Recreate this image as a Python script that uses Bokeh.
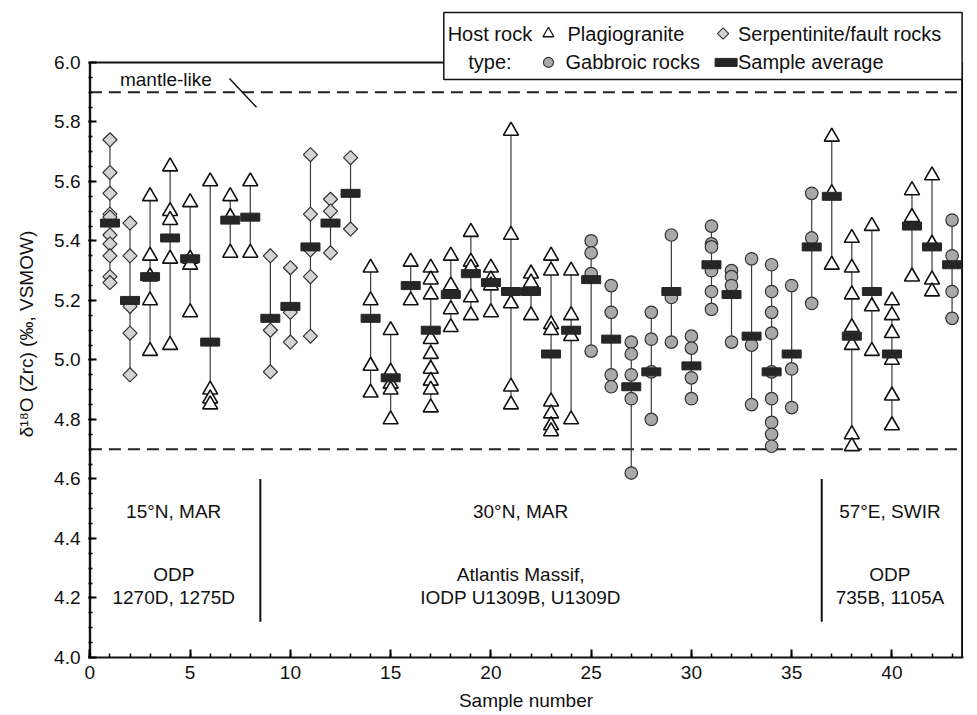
import numpy as np
import pandas as pd
from bokeh.plotting import figure
from bokeh.models import Range1d, FixedTicker, Title, PrintfTickFormatter
from bokeh.core.properties import value
from bokeh.embed import file_html
from bokeh.resources import INLINE

FONT = "Liberation Sans"

# ---------------- data ----------------
serp_sample = [1, 1, 1, 1, 1, 1, 1, 1, 1, 1,
               2, 2, 2, 2, 2,
               9, 9, 9,
               10, 10, 10,
               11, 11, 11, 11, 11,
               12, 12, 12,
               13, 13]
serp_d18o = [5.74, 5.63, 5.56, 5.49, 5.48, 5.42, 5.39, 5.35, 5.28, 5.26,
             5.46, 5.35, 5.18, 5.09, 4.95,
             5.35, 5.10, 4.96,
             5.31, 5.16, 5.06,
             5.69, 5.49, 5.37, 5.28, 5.08,
             5.54, 5.50, 5.36,
             5.68, 5.44]

plag_sample = [3, 3, 3, 3, 3,
               4, 4, 4, 4, 4,
               5, 5, 5, 5,
               6, 6, 6, 6,
               7, 7, 7,
               8, 8,
               14, 14, 14, 14,
               15, 15, 15, 15, 15,
               16, 16,
               17, 17, 17, 17, 17, 17, 17, 17, 17,
               18, 18, 18, 18,
               19, 19, 19, 19, 19,
               20, 20, 20, 20,
               21, 21, 21, 21, 21,
               22, 22, 22,
               23, 23, 23, 23, 23, 23, 23, 23,
               24, 24, 24, 24,
               37, 37, 37,
               38, 38, 38, 38, 38, 38, 38,
               39, 39, 39,
               40, 40, 40, 40, 40, 40,
               41, 41, 41,
               42, 42, 42, 42]
plag_d18o = [5.55, 5.35, 5.28, 5.20, 5.03,
             5.65, 5.50, 5.47, 5.34, 5.05,
             5.53, 5.34, 5.32, 5.16,
             5.60, 4.90, 4.87, 4.85,
             5.55, 5.48, 5.36,
             5.60, 5.36,
             5.31, 5.20, 4.98, 4.89,
             5.10, 4.96, 4.92, 4.90, 4.80,
             5.33, 5.20,
             5.31, 5.27, 5.22, 5.07, 5.02, 4.97, 4.93, 4.90, 4.84,
             5.35, 5.25, 5.17, 5.11,
             5.43, 5.33, 5.31, 5.21, 5.15,
             5.31, 5.27, 5.25, 5.16,
             5.77, 5.42, 5.19, 4.91, 4.85,
             5.29, 5.26, 5.15,
             5.35, 5.30, 5.12, 5.10, 4.86, 4.82, 4.78, 4.76,
             5.30, 5.15, 5.08, 4.80,
             5.75, 5.56, 5.32,
             5.41, 5.31, 5.22, 5.11, 5.05, 4.75, 4.71,
             5.45, 5.18, 5.03,
             5.20, 5.15, 5.09, 5.00, 4.88, 4.78,
             5.57, 5.48, 5.28,
             5.62, 5.39, 5.27, 5.23]

gab_sample = [25, 25, 25, 25,
              26, 26, 26, 26,
              27, 27, 27, 27, 27,
              28, 28, 28, 28,
              29, 29, 29,
              30, 30, 30, 30,
              31, 31, 31, 31, 31, 31,
              32, 32, 32, 32,
              33, 33, 33,
              34, 34, 34, 34, 34, 34, 34, 34, 34,
              35, 35, 35,
              36, 36, 36,
              43, 43, 43, 43]
gab_d18o = [5.40, 5.36, 5.29, 5.03,
            5.25, 5.16, 4.95, 4.91,
            5.06, 5.02, 4.95, 4.87, 4.62,
            5.16, 5.07, 4.96, 4.80,
            5.42, 5.21, 5.06,
            5.08, 5.04, 4.94, 4.87,
            5.45, 5.39, 5.38, 5.30, 5.23, 5.17,
            5.30, 5.28, 5.25, 5.06,
            5.34, 5.05, 4.85,
            5.32, 5.23, 5.16, 5.09, 4.96, 4.87, 4.79, 4.75, 4.71,
            5.25, 4.97, 4.84,
            5.56, 5.41, 5.19,
            5.47, 5.35, 5.23, 5.14]

avg_sample = list(range(1, 44))
avg_d18o = [5.46, 5.20, 5.28, 5.41, 5.34, 5.06, 5.47, 5.48, 5.14, 5.18,
            5.38, 5.46, 5.56, 5.14, 4.94, 5.25, 5.10, 5.22, 5.29, 5.26,
            5.23, 5.23, 5.02, 5.10, 5.27, 5.07, 4.91, 4.96, 5.23, 4.98,
            5.32, 5.22, 5.08, 4.96, 5.02, 5.38, 5.55, 5.08, 5.23, 5.02,
            5.45, 5.38, 5.32]

mantle_bounds = [5.9, 4.7]
x_ticks = [0, 5, 10, 15, 20, 25, 30, 35, 40]
y_ticks = [4.0, 4.2, 4.4, 4.6, 4.8, 5.0, 5.2, 5.4, 5.6, 5.8, 6.0]
region_dividers = [8.5, 36.5]

# ---------------- figure ----------------
XMAX = 43.5
YMAX = 6.0
Y_TOP = 6.1745
p = figure(width=967, height=713,
           x_range=Range1d(-0.07, XMAX + 0.07), y_range=Range1d(4.0, Y_TOP),
           output_backend="svg", toolbar_location=None,
           min_border_left=88, min_border_right=4, min_border_top=10, min_border_bottom=55)
p.outline_line_color = None
p.grid.visible = False

# axes
xa = p.xaxis[0]
xa.ticker = FixedTicker(ticks=x_ticks, minor_ticks=list(range(0, 44)))
xa.axis_line_width = 2
xa.axis_line_color = "#111"
xa.major_tick_in = 8
xa.major_tick_out = 0
xa.minor_tick_in = 4
xa.minor_tick_out = 0
xa.major_tick_line_width = 2
xa.minor_tick_line_width = 1.5
xa.major_label_text_font = FONT
xa.major_label_text_font_size = "19px"
xa.major_label_text_color = "#111"
xa.major_label_standoff = 8
xa.axis_label = "Sample number"
xa.axis_label_text_font = FONT
xa.axis_label_text_font_size = "19px"
xa.axis_label_text_font_style = "normal"
xa.axis_label_text_color = "#111"
xa.axis_label_standoff = 8

ya = p.yaxis[0]
ya.ticker = FixedTicker(ticks=y_ticks, minor_ticks=list(np.round(np.arange(4.0, 6.001, 0.05), 2)))
ya.formatter = PrintfTickFormatter(format="%.1f")
ya.axis_line_color = None
ya.major_tick_in = 8
ya.major_tick_out = 0
ya.minor_tick_in = 4
ya.minor_tick_out = 0
ya.major_tick_line_width = 2
ya.minor_tick_line_width = 1.5
ya.major_label_text_font = FONT
ya.major_label_text_font_size = "19px"
ya.major_label_text_color = "#111"
ya.major_label_standoff = 8

# frame (left, top, right)
p.segment(x0=[0, 0, XMAX], y0=[4.0, YMAX, 4.0], x1=[0, XMAX, XMAX], y1=[YMAX, YMAX, YMAX],
          line_color="#111", line_width=[2.6, 2, 2])

# mantle-like dashed bounds
for yb in mantle_bounds:
    p.line(x=[0, XMAX], y=[yb, yb], line_color="#222", line_width=2, line_dash="12 7")

# region dividers
p.segment(x0=region_dividers, y0=4.12, x1=region_dividers, y1=4.6, line_color="#111", line_width=2)

# range lines per sample
allv = pd.DataFrame({"s": serp_sample + plag_sample + gab_sample,
                     "v": serp_d18o + plag_d18o + gab_d18o})
rng = allv.groupby("s")["v"].agg(["min", "max"]).reset_index()
p.segment(x0=rng["s"], y0=rng["min"], x1=rng["s"], y1=rng["max"], line_color="#3a3a3a", line_width=1.2)

# markers
p.scatter(serp_sample, serp_d18o, marker="square", angle=np.pi / 4, size=10,
          fill_color="#d3d3d3", line_color="#333", line_width=1.2)
p.scatter(plag_sample, plag_d18o, marker="triangle", size=15,
          fill_color="white", line_color="#111", line_width=1.6)
p.scatter(gab_sample, gab_d18o, marker="circle", size=12.5,
          fill_color="#a9a9a9", line_color="#333", line_width=1.2)
p.rect(avg_sample, avg_d18o, width=19, height=8, width_units="screen", height_units="screen",
       fill_color="#262626", line_color="#262626")

# mantle-like label and leader
p.text(x=[1.5], y=[5.943], text=["mantle-like"], text_font=value(FONT), text_font_size="19px",
       text_align="left", text_baseline="middle", text_color="#111")
p.segment(x0=[6.96], y0=[5.946], x1=[8.31], y1=[5.849], line_color="#111", line_width=1.5)

# region texts
reg_x = [4.18, 4.18, 4.18, 21.48, 21.48, 21.48, 39.9, 39.9, 39.9]
reg_y = [4.49, 4.28, 4.20, 4.49, 4.28, 4.20, 4.49, 4.28, 4.20]
reg_t = ["15°N, MAR", "ODP", "1270D, 1275D",
         "30°N, MAR", "Atlantis Massif,", "IODP U1309B, U1309D",
         "57°E, SWIR", "ODP", "735B, 1105A"]
p.text(x=reg_x, y=reg_y, text=reg_t, text_font=value(FONT), text_font_size="19px",
       text_align="center", text_baseline="middle", text_color="#111")

# legend box
LB_L, LB_B, LB_T = 17.65, 5.943, 6.168
p.quad(left=[LB_L], right=[XMAX], bottom=[LB_B], top=[LB_T],
       fill_color="white", line_color="#111", line_width=1.5)
p.text(x=[19.95, 19.95], y=[6.097, 6.0], text=["Host rock", "type:"], text_font=value(FONT),
       text_font_size="20px", text_align="center", text_baseline="middle", text_color="#111")
p.scatter([22.87], [6.097], marker="triangle", size=11, fill_color="white", line_color="#111", line_width=1.3)
p.scatter([31.58], [6.097], marker="square", angle=np.pi / 4, size=8, fill_color="#d3d3d3",
          line_color="#333", line_width=1.1)
p.scatter([22.87], [6.0], marker="circle", size=10, fill_color="#a9a9a9", line_color="#333", line_width=1.1)
p.rect([31.73], [6.0], width=22, height=8, width_units="screen", height_units="screen",
       fill_color="#262626", line_color="#262626")
p.text(x=[23.82, 32.32, 23.72, 32.32], y=[6.097, 6.097, 6.0, 6.0],
       text=["Plagiogranite", "Serpentinite/fault rocks", "Gabbroic rocks", "Sample average"],
       text_font=value(FONT), text_font_size="20px", text_align="left", text_baseline="middle",
       text_color="#111")

# y axis label (as a left title, shifted down to centre on 4.0-6.0)
p.add_layout(Title(text="δ¹⁸O (Zrc) (‰, VSMOW)", align="center", offset=-26, standoff=25,
                   vertical_align="top",
                   text_font=FONT, text_font_size="19px", text_font_style="normal",
                   text_color="#111"), "left")

open("out.html", "w").write(file_html(p, INLINE))
